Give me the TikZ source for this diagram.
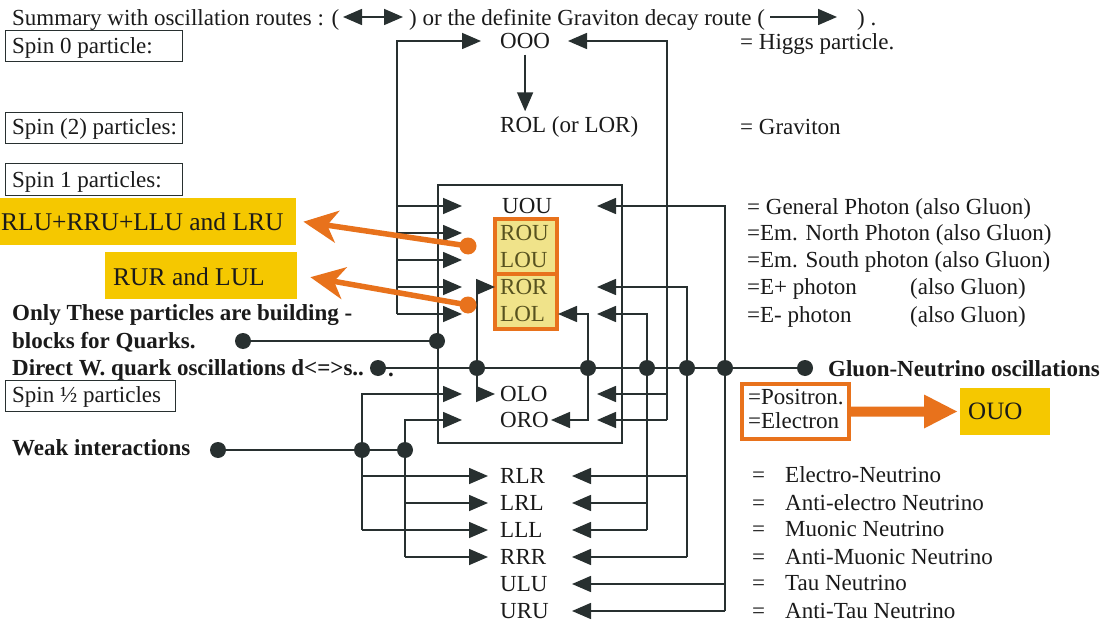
\documentclass[tikz,border=0pt]{standalone}
\usepackage{fontspec}
\setmainfont{Liberation Serif}
\usetikzlibrary{arrows.meta}
\definecolor{ink}{HTML}{283030}
\definecolor{txtc}{HTML}{1A1A1A}
\definecolor{orng}{HTML}{E8721C}
\definecolor{ylw}{HTML}{F5C800}
\definecolor{lyel}{HTML}{F0E38A}
\definecolor{olive}{HTML}{57521F}
\begin{document}
\begin{tikzpicture}[x=1pt,y=-1pt,
 ln/.style={draw=ink,line width=1.6pt},
 arr/.style={ln,-{Triangle[length=19pt,width=16pt]}},
 dbl/.style={ln,{Triangle[length=19pt,width=16pt]}-{Triangle[length=19pt,width=16pt]}},
 txt/.style={inner sep=0pt,anchor=west,text height=15pt,text depth=0pt,text=txtc,font=\fontsize{23}{27}\selectfont},
 btxt/.style={txt,font=\fontsize{23}{27}\selectfont\bfseries},
 ytxt/.style={txt,font=\fontsize{25.5}{30}\selectfont,text height=17pt},
 otxt/.style={txt,text=olive},
 sbox/.style={draw=ink,line width=1.3pt,anchor=north west,inner sep=0pt,minimum height=31pt},
 jdot/.style={circle,fill=ink,inner sep=0pt,minimum size=16pt},
 odot/.style={circle,fill=orng,inner sep=0pt,minimum size=17pt},
 oarr/.style={draw=orng,line width=5.5pt,-{Stealth[length=34pt,width=32pt,inset=10pt]}},
 ybox/.style={fill=ylw,anchor=north west,inner sep=0pt,minimum height=47pt},
 obox/.style={draw=orng,line width=4pt,anchor=north west,inner sep=0pt}
]
\useasboundingbox[fill=white] (0,0) rectangle (1101,623);

% ---------- title ----------
\node[txt] (t1) at (12,18) {Summary with oscillation routes : (};
\coordinate (da1) at (343,17);
\coordinate (da2) at (403,17);
\draw[dbl] (da1) -- (da2);
\node[txt] (t2) at (409,18) {) or the definite Graviton decay route (};
\coordinate (ga1) at (770,17);
\coordinate (ga2) at (837,17);
\draw[arr] (ga1) -- (ga2);
\node[txt] (t3) at (857,18) {) .};

% ---------- spin boxes ----------
\node[sbox,minimum width=177pt] (b0) at (5,30) {};
\node[txt] (s0) at (12,46) {Spin 0 particle:};
\node[sbox,minimum width=177pt] (b2) at (5,112) {};
\node[txt] (s2) at (12,127) {Spin (2) particles:};
\node[sbox,minimum width=177pt,minimum height=32pt] (b1) at (5,163) {};
\node[txt] (s1) at (12,180) {Spin 1 particles:};
\node[sbox,minimum width=170pt] (bh) at (5,380) {};
\node[txt] (sh) at (12,395) {Spin ½ particles};

% ---------- yellow labels ----------
\node[ybox,minimum width=296pt] (y1) at (0,198) {};
\node[ytxt] (y1t) at (1,222) {RLU+RRU+LLU and LRU};
\node[ybox,minimum width=192pt] (y2) at (105,252) {};
\node[ytxt] (y2t) at (113,277) {RUR and LUL};

% ---------- boxes ----------
\node[obox,fill=lyel,minimum width=62pt,minimum height=55pt] (ob1) at (493,217) {};
\node[obox,fill=lyel,minimum width=62pt,minimum height=55pt] (ob2) at (493,272) {};
\node[draw=ink,line width=1.6pt,anchor=north west,inner sep=0pt,minimum width=184pt,minimum height=258pt] (core) at (437,184) {};

% ---------- particles ----------
\node[txt] (OOO) at (500,41) {OOO};
\node[txt] (ROL) at (500,125) {ROL (or LOR)};
\node[txt] (UOU) at (502,206) {UOU};
\node[otxt] (ROU) at (500,233) {ROU};
\node[otxt] (LOU) at (500,260) {LOU};
\node[otxt] (ROR) at (500,287) {ROR};
\node[otxt] (LOL) at (500,314) {LOL};
\node[txt] (OLO) at (500,394) {OLO};
\node[txt] (ORO) at (500,420) {ORO};
\node[txt] (RLR) at (500,476) {RLR};
\node[txt] (LRL) at (500,503) {LRL};
\node[txt] (LLL) at (500,530) {LLL};
\node[txt] (RRR) at (500,557) {RRR};
\node[txt] (ULU) at (500,584) {ULU};
\node[txt] (URU) at (500,611) {URU};

% ---------- bus coordinates ----------
\coordinate (xL) at (397,0);
\coordinate (xA) at (362,0);
\coordinate (xB) at (405,0);
\coordinate (xI) at (477,0);
\coordinate (xJ) at (588,0);
\coordinate (xP) at (647,0);
\coordinate (xQ) at (667,0);
\coordinate (xS) at (687,0);
\coordinate (xT) at (725,0);
\coordinate (tL) at (462,0);
\coordinate (tI) at (495,0);
\coordinate (tR) at (597,0);
\coordinate (tJ) at (558,0);
\coordinate (tJ2) at (551,0);
\coordinate (tOL) at (481,0);
\coordinate (tOR) at (568,0);
\coordinate (tBR) at (488,0);
\coordinate (tBL) at (572,0);
\coordinate (qk) at (243,341);
\coordinate (dw) at (378,368);
\coordinate (wk) at (218,450);
\coordinate (gn) at (805,368);

% ---------- decay ----------
\draw[arr] ([yshift=-6pt]OOO.south) -- ([yshift=6pt]OOO.south |- ROL.north);

% ---------- left bus ----------
\draw[arr] (xL |- LOL) -- (xL |- OOO) -- (tOL |- OOO);
\foreach \n in {UOU,ROU,LOU,ROR,LOL} \draw[arr] (xL |- \n) -- (tL |- \n);

% ---------- right bus to OOO ----------
\draw[arr] (xQ |- ORO) -- (xQ |- OOO) -- (tOR |- OOO);
\draw[arr] (xQ |- OLO) -- (tR |- OLO);
\draw[arr] (xQ |- ORO) -- (tR |- ORO);

% ---------- inner loops ----------
\draw[dbl] (tI |- ROR) -- (xI |- ROR) -- (xI |- OLO) -- (tI |- OLO);
\draw[dbl] (tJ |- LOL) -- (xJ |- LOL) -- (xJ |- ORO) -- (tJ2 |- ORO);

% ---------- right buses ----------
\draw[arr] (xT |- URU) -- (xT |- UOU) -- (tR |- UOU);
\draw[arr] (xT |- ULU) -- (tBL |- ULU);
\draw[arr] (xT |- URU) -- (tBL |- URU);
\draw[arr] (xS |- RRR) -- (xS |- ROR) -- (tR |- ROR);
\draw[arr] (xS |- RLR) -- (tBL |- RLR);
\draw[arr] (xS |- RRR) -- (tBL |- RRR);
\draw[arr] (xP |- LLL) -- (xP |- LOL) -- (tR |- LOL);
\draw[arr] (xP |- LRL) -- (tBL |- LRL);
\draw[arr] (xP |- LLL) -- (tBL |- LLL);

% ---------- lower left buses ----------
\draw[arr] (xA |- LLL) -- (xA |- OLO) -- (tL |- OLO);
\draw[arr] (xA |- RLR) -- (tBR |- RLR);
\draw[arr] (xA |- LLL) -- (tBR |- LLL);
\draw[arr] (xB |- RRR) -- (xB |- ORO) -- (tL |- ORO);
\draw[arr] (xB |- LRL) -- (tBR |- LRL);
\draw[arr] (xB |- RRR) -- (tBR |- RRR);

% ---------- feed lines ----------
\draw[ln] (qk) -- (core.west |- qk);
\draw[ln] (dw) -- (gn);
\draw[ln] (wk) -- (xB |- wk);

% ---------- dots ----------
\node[jdot] (d1) at (qk) {};
\node[jdot] (d2) at (core.west |- qk) {};
\node[jdot] (d3) at (dw) {};
\node[jdot] (d4) at (xI |- dw) {};
\node[jdot] (d5) at (xJ |- dw) {};
\node[jdot] (d6) at (xP |- dw) {};
\node[jdot] (d7) at (xS |- dw) {};
\node[jdot] (d8) at (xT |- dw) {};
\node[jdot] (d9) at (gn) {};
\node[jdot] (d10) at (wk) {};
\node[jdot] (d11) at (xA |- wk) {};
\node[jdot] (d12) at (xB |- wk) {};

% ---------- left bold texts ----------
\node[btxt] (q1) at (12,313) {Only These particles are building -};
\node[btxt] (q2) at (12,341) {blocks for Quarks.};
\node[btxt] (dwt) at (12,368) {Direct W. quark oscillations d<=>s..};
\node[btxt] (dwp) at (388,369) {.};
\node[btxt] (wkt) at (12,448) {Weak interactions};
\node[btxt] (gnt) at (828,369) {Gluon-Neutrino oscillations};

% ---------- right descriptions ----------
\node[txt] (r1) at (740,42) {= Higgs particle.};
\node[txt] (r2) at (740,127) {= Graviton};
\node[txt] (r3) at (747,207) {= General Photon (also Gluon)};
\node[txt] (r4) at (747,233) {=Em. North Photon (also Gluon)};
\node[txt] (r5) at (747,260) {=Em. South photon (also Gluon)};
\node[txt] (r6) at (747,287) {=E+ photon};
\node[txt] (r6b) at (910,287) {(also Gluon)};
\node[txt] (r7) at (747,315) {=E- photon};
\node[txt] (r7b) at (910,315) {(also Gluon)};

% ---------- electron box ----------
\node[obox,minimum width=107pt,minimum height=55pt] (pe) at (740,382) {};
\node[txt] (pos) at (748,397) {=Positron.};
\node[txt] (ele) at (748,421) {=Electron};
\node[ybox,minimum width=90pt] (ouo) at (960,388) {};
\node[ytxt,font=\fontsize{25}{29}\selectfont] (ouot) at (968,411) {OUO};
\fill[orng] ([yshift=5pt]pe.east) -- ++(73,0) -- ++(0,-12) -- ++(33,17) -- ++(-33,17) -- ++(0,-12) -- ++(-73,0) -- cycle;

% ---------- neutrinos ----------
\foreach \y/\t [count=\i] in {475/Electro-Neutrino,503/Anti-electro Neutrino,529/Muonic Neutrino,557/Anti-Muonic Neutrino,583/Tau Neutrino,611/Anti-Tau Neutrino}{
  \node[txt] (eq\i) at (752,\y) {=};
  \node[txt] (nu\i) at (785,\y) {\t};
}

% ---------- orange pointers ----------
\coordinate (od1) at (468,246);
\coordinate (od2) at (468,305);
\draw[oarr] (od1) -- ([xshift=7pt]y1.east);
\draw[oarr] (od2) -- ([xshift=13pt,yshift=-1.5pt]y2.east);
\node[odot] (o1) at (od1) {};
\node[odot] (o2) at (od2) {};
\end{tikzpicture}
\end{document}
